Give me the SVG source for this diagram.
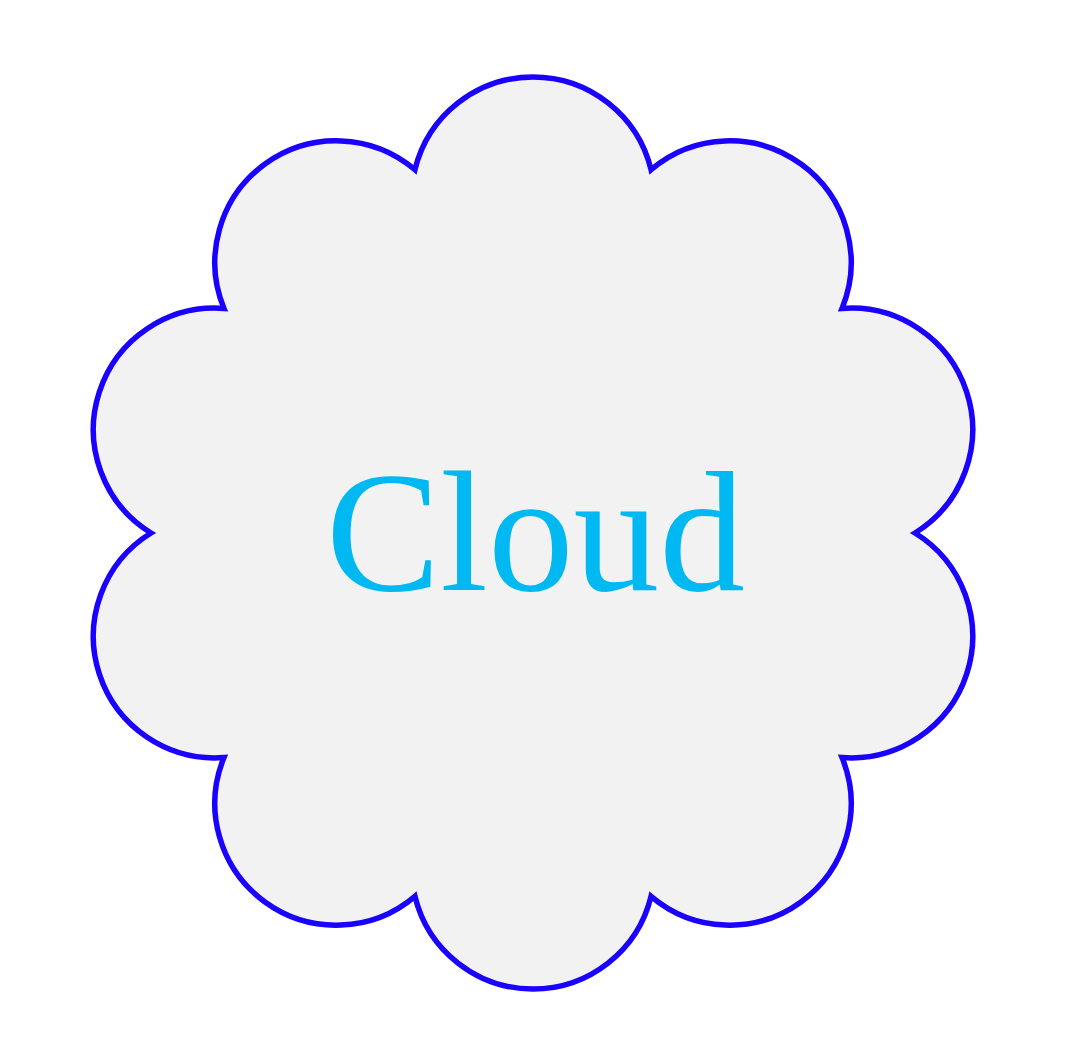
<svg xmlns="http://www.w3.org/2000/svg" width="1068" height="1064" viewBox="0 0 1068 1064">
  <style>
    .cloud { fill: #f2f2f2; stroke: #1a00ff; stroke-width: 5.5; stroke-miterlimit: 10; }
    .label { font-family: "Liberation Serif", "DejaVu Serif", serif; font-size: 172px; fill: #00b9f2; }
  </style>
  <rect width="1068" height="1064" fill="#ffffff"/>
  <g id="cloud">
    <path class="cloud" d="M 915 533
      A 121.5 121.5 0 0 1 842.04 757.53
      A 121.5 121.5 0 0 1 651.04 896.3
      A 121.5 121.5 0 0 1 414.96 896.3
      A 121.5 121.5 0 0 1 223.96 757.53
      A 121.5 121.5 0 0 1 151 533
      A 121.5 121.5 0 0 1 223.96 308.47
      A 121.5 121.5 0 0 1 414.96 169.7
      A 121.5 121.5 0 0 1 651.04 169.7
      A 121.5 121.5 0 0 1 842.04 308.47
      A 121.5 121.5 0 0 1 915 533 Z"/>
    <text class="label" x="535.5" y="590" text-anchor="middle" textLength="419" lengthAdjust="spacingAndGlyphs">Cloud</text>
  </g>
  <g id="connectors"/>
</svg>
